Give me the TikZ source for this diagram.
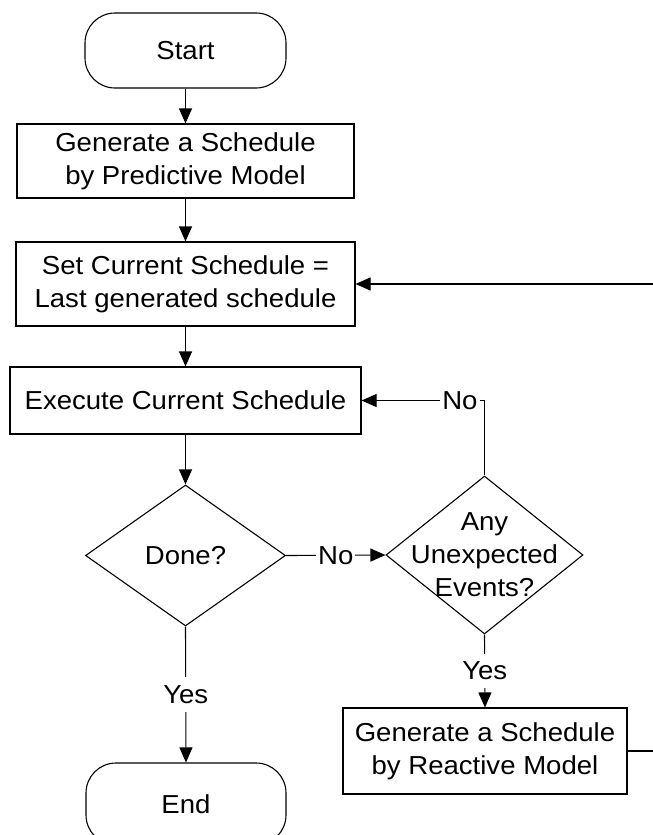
\documentclass[tikz,border=0pt]{standalone}
\usepackage{fontspec}
\setmainfont[FakeStretch=1.06]{Liberation Sans}
\usetikzlibrary{shapes.geometric,arrows.meta}
\begin{document}
\begin{tikzpicture}[x=1pt,y=-1pt,
  every node/.style={font=\fontsize{26}{33}\selectfont},
  box/.style={draw,line width=1.1pt,rectangle,inner sep=0pt,align=center},
  term/.style={draw,line width=1.1pt,rectangle,rounded corners=30pt,inner sep=0pt,minimum width=201pt,minimum height=75pt},
  decision/.style={draw,line width=1.1pt,diamond,inner sep=0pt},
  txt/.style={align=center,inner sep=0pt},
  arr/.style={line width=1.1pt,-{Triangle[length=15pt,width=13pt]}},
  lbl/.style={fill=white,inner xsep=2pt,inner ysep=8pt}]
\useasboundingbox (0,0) rectangle (653,835);
\node[term] (start) at (185.5,50.5) {Start};
\node[box,minimum width=337pt,minimum height=74pt] (gen1) at (185.5,161) {Generate a Schedule\\by Predictive Model};
\node[box,minimum width=339pt,minimum height=84pt] (set) at (185.5,284) {Set Current Schedule =\\Last generated schedule};
\node[box,minimum width=351pt,minimum height=67pt] (exec) at (185.5,400.5) {Execute Current Schedule};
\node[decision,minimum width=200pt,minimum height=141pt] (done) at (185.5,555.5) {};
\node[txt] (donetext) at (done.center) {Done?};
\node[decision,minimum width=197pt,minimum height=158pt] (unexp) at (484.5,555) {};
\node[txt] (unexptext) at (unexp.center) {Any\\Unexpected\\Events?};
\node[box,minimum width=284pt,minimum height=86pt] (react) at (485,751) {Generate a Schedule\\by Reactive Model};
\node[term,minimum width=200pt,minimum height=82pt] (end) at (186,804) {End};
\coordinate (loop) at (662,751);
\draw[arr] (start) -- (gen1);
\draw[arr] (gen1) -- (set);
\draw[arr] (set) -- (exec);
\draw[arr] (exec) -- (done);
\draw[arr] (done.east) -- node[lbl]{No} (unexp.west);
\draw[arr] (done.south) -- node[lbl]{Yes} (end.north);
\draw[arr] (unexp.south) -- node[lbl]{Yes} (react.north);
\draw[arr] (unexp.north) |- node[lbl,pos=0.6]{No} (exec.east);
\draw[arr] (react.east) -- (loop) |- (set.east);
\end{tikzpicture}
\end{document}
